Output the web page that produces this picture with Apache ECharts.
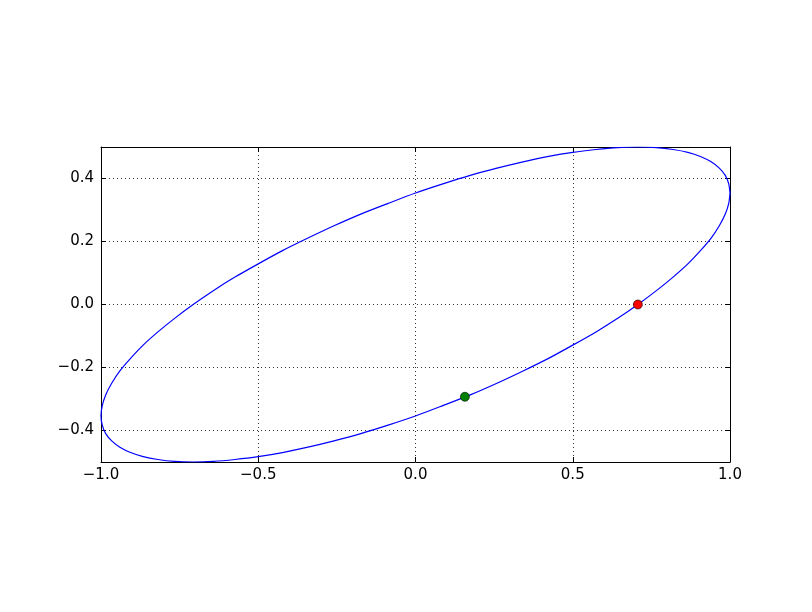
<!DOCTYPE html>
<html>
<head>
<meta charset="utf-8">
<script src="https://cdn.jsdelivr.net/npm/echarts@6/dist/echarts.min.js"></script>
<style>
html,body{margin:0;padding:0;background:#fff;}
#chart{width:812px;height:612px;}
</style>
</head>
<body>
<div id="chart"></div>
<script>
// Ellipse points
var ellipseX = [1.000, 0.996, 0.985, 0.966, 0.940, 0.906, 0.866, 0.819, 0.766, 0.707,
  0.643, 0.574, 0.500, 0.423, 0.342, 0.259, 0.174, 0.087, 0.000,
  -0.087, -0.174, -0.259, -0.342, -0.423, -0.500, -0.574, -0.643, -0.707,
  -0.766, -0.819, -0.866, -0.906, -0.940, -0.966, -0.985, -0.996, -1.000,
  -0.996, -0.985, -0.966, -0.940, -0.906, -0.866, -0.819, -0.766, -0.707,
  -0.643, -0.574, -0.500, -0.423, -0.342, -0.259, -0.174, -0.087, 0.000,
  0.087, 0.174, 0.259, 0.342, 0.423, 0.500, 0.574, 0.643, 0.707,
  0.766, 0.819, 0.866, 0.906, 0.940, 0.966, 0.985, 0.996, 1.000];
var ellipseY = [0.354, 0.383, 0.410, 0.433, 0.453, 0.470, 0.483, 0.492, 0.498, 0.500,
  0.498, 0.492, 0.483, 0.470, 0.453, 0.433, 0.410, 0.383, 0.354,
  0.321, 0.287, 0.250, 0.211, 0.171, 0.129, 0.087, 0.044, 0.000,
  -0.044, -0.087, -0.129, -0.171, -0.211, -0.250, -0.287, -0.321, -0.354,
  -0.383, -0.410, -0.433, -0.453, -0.470, -0.483, -0.492, -0.498, -0.500,
  -0.498, -0.492, -0.483, -0.470, -0.453, -0.433, -0.410, -0.383, -0.354,
  -0.321, -0.287, -0.250, -0.211, -0.171, -0.129, -0.087, -0.044, 0.000,
  0.044, 0.087, 0.129, 0.171, 0.211, 0.250, 0.287, 0.321, 0.354];
var redPoint = [0.707, 0.0];
var greenPoint = [0.157, -0.293];
var xTicks = [-1.0, -0.5, 0.0, 0.5, 1.0];
var yTicks = [-0.4, -0.2, 0.0, 0.2, 0.4];

var ellipseData = ellipseX.map(function (x, i) { return [x, ellipseY[i]]; });
var font = 'DejaVu Sans';
function fmt(v) { return (+v).toFixed(1).replace('-', '\u2212'); }

var chart = echarts.init(document.getElementById('chart'), null, {renderer: 'canvas'});
var grid = {left: 101, right: 82, top: 147, bottom: 150, containLabel: false};
var lineStyle = {color: '#000', width: 1};
var splitStyle = {show: true, lineStyle: {color: '#333', width: 1, type: [1, 3]}};
function xAxis(pos, labels) {
  return {
    type: 'value', position: pos, min: -1, max: 1, interval: 0.5,
    axisLine: {show: true, onZero: false, lineStyle: lineStyle},
    axisTick: {show: true, inside: true, length: 5, lineStyle: lineStyle, customValues: xTicks},
    axisLabel: {show: labels, formatter: fmt, color: '#000', fontFamily: font, fontSize: 15, margin: 6, customValues: xTicks},
    splitLine: labels ? splitStyle : {show: false}
  };
}
function yAxis(pos, labels) {
  return {
    type: 'value', position: pos, min: -0.5, max: 0.5,
    axisLine: {show: true, onZero: false, lineStyle: lineStyle},
    axisTick: {show: true, inside: true, length: 5, lineStyle: lineStyle, customValues: yTicks},
    axisLabel: {show: labels, formatter: fmt, color: '#000', fontFamily: font, fontSize: 15, margin: 7, customValues: yTicks},
    splitLine: labels ? splitStyle : {show: false}
  };
}
chart.setOption({
  animation: false,
  backgroundColor: '#fff',
  grid: grid,
  xAxis: [xAxis('bottom', true), xAxis('top', false)],
  yAxis: [yAxis('left', true), yAxis('right', false)],
  series: [
    {
      type: 'line', data: ellipseData, smooth: 0.25, showSymbol: false, symbol: 'none',
      lineStyle: {color: '#0000ff', width: 1.2}, clip: true, z: 3
    },
    {
      type: 'scatter', data: [redPoint], symbolSize: 9,
      itemStyle: {color: '#ff0000', opacity: 1, borderColor: '#000', borderWidth: 0.6}, z: 4
    },
    {
      type: 'scatter', data: [greenPoint], symbolSize: 9,
      itemStyle: {color: '#008000', opacity: 1, borderColor: '#000', borderWidth: 0.6}, z: 4
    }
  ]
});
</script>
</body>
</html>
